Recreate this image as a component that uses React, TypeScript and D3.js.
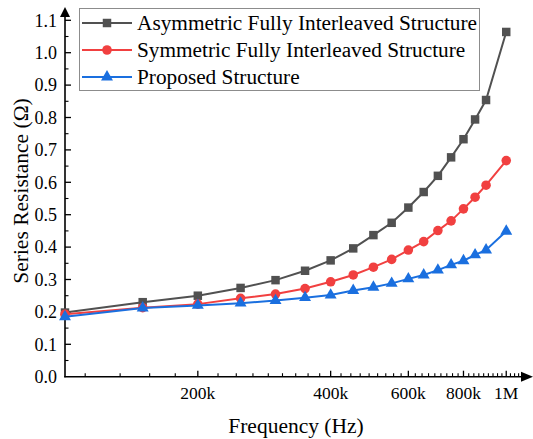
import React from "react";
import * as d3 from "d3";

// Frequencies (Hz) at which the series resistance was evaluated
const frequencies = [
  100000, 150000, 200000, 250000, 300000, 350000, 400000, 450000, 500000,
  550000, 600000, 650000, 700000, 750000, 800000, 850000, 900000, 1000000,
];

// Series resistance (Ohm) for each winding structure
const asymmetric = [
  0.198, 0.23, 0.25, 0.274, 0.298, 0.327, 0.359, 0.396, 0.437, 0.475, 0.522,
  0.57, 0.62, 0.677, 0.733, 0.794, 0.854, 1.064,
];
const symmetric = [
  0.193, 0.213, 0.224, 0.242, 0.255, 0.272, 0.293, 0.314, 0.338, 0.362, 0.391,
  0.417, 0.451, 0.481, 0.518, 0.554, 0.591, 0.667,
];
const proposed = [
  0.185, 0.212, 0.22, 0.227, 0.235, 0.244, 0.252, 0.266, 0.276, 0.288, 0.302,
  0.314, 0.329, 0.345, 0.358, 0.376, 0.391, 0.449,
];

const seriesNames = [
  "Asymmetric Fully Interleaved Structure",
  "Symmetric Fully Interleaved Structure",
  "Proposed Structure",
];
const seriesColors = ["#515151", "#F14040", "#1A6FDF"];
const seriesSymbols = [d3.symbolSquare, d3.symbolCircle, d3.symbolTriangle];
const seriesSizes = [72, 72, 62];

const xTickValues = [200000, 400000, 600000, 800000, 1000000];
const xTickLabels = ["200k", "400k", "600k", "800k", "1M"];
const yTickValues = [0, 0.1, 0.2, 0.3, 0.4, 0.5, 0.6, 0.7, 0.8, 0.9, 1.0, 1.1];

const W = 533;
const H = 439;
const left = 65;
const bottom = 376.7;
const font = '"Liberation Serif", "Times New Roman", Times, "DejaVu Serif", serif';

export default function App() {
  const x = d3.scaleLog().domain([100000, 1100000]).range([left, 524.5]);
  const y = d3.scaleLinear().domain([0, 1.1]).range([bottom, 20.3]);

  // minor ticks divide each 200k interval into nine parts
  const xMinor = d3
    .range(1, 50)
    .map((k) => (k * 200000) / 9)
    .filter((v) => v > 100000 && v < 1090000 && Math.abs(v % 200000) > 1);
  const yMinor = d3.range(0.05, 1.1, 0.1);

  const data = [asymmetric, symmetric, proposed];
  const line = d3
    .line<number>()
    .x((_, i) => x(frequencies[i]))
    .y((d) => y(d));

  const fmt = d3.format(".1f");
  const legendY = [23, 50, 77];
  const textStyle = { fontFamily: font };

  return (
    <svg
      width={W}
      height={H}
      style={{ position: "absolute", left: 0, top: 0, background: "#fff", fontFamily: font }}
    >
      {/* axes */}
      <line x1={left} x2={left} y1={bottom + 0.5} y2={16} stroke="#000" strokeWidth={1.6} />
      <polygon points={`${left - 5},17 ${left + 5},17 ${left},7`} fill="#000" />
      <line x1={left - 0.8} x2={522} y1={bottom} y2={bottom} stroke="#000" strokeWidth={1.6} />
      <polygon points={`521,${bottom - 5} 521,${bottom + 5} 533,${bottom}`} fill="#000" />

      {/* y ticks */}
      {yTickValues.map((v) => (
        <g key={"y" + v}>
          {v > 0 && (
            <line x1={left} x2={left + 6} y1={y(v)} y2={y(v)} stroke="#000" strokeWidth={1.3} />
          )}
          <text
            x={57}
            y={y(v)}
            dy="0.35em"
            textAnchor="end"
            fontSize={18}
            fill="#000"
            style={textStyle}
          >
            {fmt(v)}
          </text>
        </g>
      ))}
      {yMinor.map((v) => (
        <line key={"ym" + v} x1={left} x2={left + 3.5} y1={y(v)} y2={y(v)} stroke="#000" strokeWidth={1.1} />
      ))}

      {/* x ticks */}
      {xTickValues.map((v, i) => (
        <g key={"x" + v}>
          <line x1={x(v)} x2={x(v)} y1={bottom} y2={bottom - 6} stroke="#000" strokeWidth={1.3} />
          <text x={x(v)} y={399} textAnchor="middle" fontSize={17.5} fill="#000" style={textStyle}>
            {xTickLabels[i]}
          </text>
        </g>
      ))}
      {xMinor.map((v) => (
        <line key={"xm" + v} x1={x(v)} x2={x(v)} y1={bottom} y2={bottom - 3.5} stroke="#000" strokeWidth={1.1} />
      ))}

      {/* axis titles */}
      <text x={296} y={433} textAnchor="middle" fontSize={21.5} fill="#000" style={textStyle}>
        Frequency (Hz)
      </text>
      <text
        transform={`translate(27.5,191) rotate(-90)`}
        textAnchor="middle"
        fontSize={21.5}
        fill="#000"
        style={textStyle}
      >
        Series Resistance (Ω)
      </text>

      {/* series */}
      {data.map((vals, s) => (
        <g key={"s" + s}>
          <path d={line(vals) ?? ""} fill="none" stroke={seriesColors[s]} strokeWidth={2} />
          {vals.map((v, i) => (
            <path
              key={i}
              d={d3.symbol().type(seriesSymbols[s]).size(seriesSizes[s])() ?? ""}
              transform={`translate(${x(frequencies[i])},${y(v)})`}
              fill={seriesColors[s]}
            />
          ))}
        </g>
      ))}

      {/* legend */}
      <rect x={79.5} y={8.5} width={400} height={82} fill="#fff" stroke="#8c8c8c" strokeWidth={1} />
      {seriesNames.map((name, s) => (
        <g key={"l" + s}>
          <line x1={82} x2={132} y1={legendY[s]} y2={legendY[s]} stroke={seriesColors[s]} strokeWidth={2} />
          <path
            d={d3.symbol().type(seriesSymbols[s]).size(seriesSizes[s])() ?? ""}
            transform={`translate(107,${legendY[s]})`}
            fill={seriesColors[s]}
          />
          <text x={137} y={legendY[s]} dy="0.33em" fontSize={21.3} fill="#000" style={textStyle}>
            {name}
          </text>
        </g>
      ))}
    </svg>
  );
}
